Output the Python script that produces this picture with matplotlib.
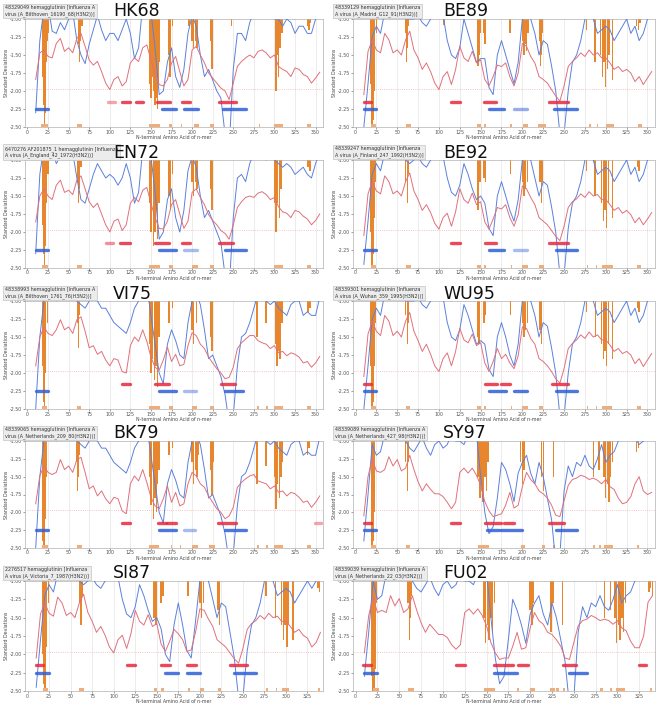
import matplotlib
matplotlib.use("Agg")
import matplotlib.pyplot as plt

W, H = 661, 707

PANELS = ["HK68", "BE89", "EN72", "BE92", "VI75", "WU95", "BK79", "SY97", "SI87", "FU02"]
CAPTIONS = [
    "48329049 hemagglutinin [Influenza A\nvirus (A_Bilthoven_16190_68(H3N2))]",
    "48339129 hemagglutinin [Influenza\nA virus (A_Madrid_G12_91(H3N2))]",
    "6470276 AF201875_1 hemagglutinin [Influenza\nA virus (A_England_42_1972(H3N2))]",
    "48339247 hemagglutinin [Influenza\nA virus (A_Finland_247_1992(H3N2))]",
    "48338993 hemagglutinin [Influenza A\nvirus (A_Bilthoven_1761_76(H3N2))]",
    "48339301 hemagglutinin [Influenza\nA virus (A_Wuhan_359_1995(H3N2))]",
    "48339065 hemagglutinin [Influenza A\nvirus (A_Netherlands_209_80(H3N2))]",
    "48339089 hemagglutinin [Influenza A\nvirus (A_Netherlands_427_98(H3N2))]",
    "2276517 hemagglutinin [Influenza\nA virus (A_Victoria_7_1987(H3N2))]",
    "48339039 hemagglutinin [Influenza A\nvirus (A_Netherlands_22_03(H3N2))]",
]

# n-mer start positions (every 5th residue)
POS = [10, 15, 20, 25, 30, 35, 40, 45, 50, 55, 60, 65, 70, 75, 80, 85, 90, 95, 100, 105,
       110, 115, 120, 125, 130, 135, 140, 145, 150, 155, 160, 165, 170, 175, 180, 185, 190, 195, 200, 205,
       210, 215, 220, 225, 230, 235, 240, 245, 250, 255, 260, 265, 270, 275, 280, 285, 290, 295, 300, 305,
       310, 315, 320, 325, 330, 335, 340, 345, 350, 355]

# ---- HK68
HK68_RED = [-1.84, -1.47, -1.43, -1.52, -1.54, -1.34, -1.27, -1.45, -1.40, -1.47,
            -1.27, -1.20, -1.38, -1.57, -1.64, -1.59, -1.73, -1.89, -1.98, -1.84,
            -1.80, -1.93, -1.87, -1.61, -1.54, -1.59, -1.40, -1.36, -1.57, -1.75,
            -1.91, -1.93, -1.84, -1.61, -1.52, -1.73, -1.93, -1.84, -1.43, -1.38,
            -1.50, -1.61, -1.75, -1.82, -1.89, -1.96, -2.00, -2.12, -1.89, -1.66,
            -1.59, -1.54, -1.50, -1.54, -1.45, -1.43, -1.47, -1.54, -1.50, -1.66,
            -1.70, -1.73, -1.80, -1.68, -1.70, -1.77, -1.80, -1.89, -1.82, -1.74]
HK68_BLUE = [-2.30, -1.30, -0.85, -0.80, -1.17, -1.20, -1.05, -1.15, -1.00, -0.90,
             -1.30, -1.50, -1.62, -1.35, -1.15, -0.95, -1.15, -1.30, -1.20, -1.20,
             -1.30, -1.15, -1.00, -1.20, -1.55, -1.40, -0.80, -0.80, -0.90, -1.40,
             -2.05, -2.00, -1.60, -1.40, -1.80, -1.95, -1.70, -1.20, -0.95, -1.10,
             -1.50, -1.80, -1.70, -1.85, -2.00, -2.10, -2.60, -2.80, -1.70, -1.20,
             -1.20, -1.30, -1.05, -0.90, -0.80, -0.90, -0.95, -0.85, -1.00, -1.00,
             -1.10, -1.00, -1.05, -1.20, -1.10, -1.10, -1.20, -1.20, -1.00, -0.90]
HK68_SPIKE_X = [19, 20, 21, 22, 23, 24, 25, 62, 63, 64, 66, 148, 149, 150, 152, 153, 155, 156, 157, 158, 159, 160,
                172, 173, 174, 176, 196, 200, 202, 204, 206, 222, 224, 225, 248, 301, 302, 303, 305, 307, 309, 341, 342, 343]
HK68_SPIKE_Y = [-1.8, -2.2, -2.5, -2.3, -1.6, -1.3, -1.2, -1.35, -1.6, -1.3, -1.1, -1.5, -1.9, -2.1, -1.8, -2.0, -2.2, -1.7, -2.1, -2.25, -1.9, -1.6,
                -1.5, -1.8, -1.3, -1.1, -1.1, -1.3, -1.4, -1.3, -1.4, -1.3, -1.7, -1.4, -1.1, -1.6, -2.0, -1.5, -1.8, -1.4, -1.2, -1.1, -1.15, -1.05]
HK68_MARKS = [(17, 8), (60, 6), (148, 13), (172, 4), (187, 1), (202, 6), (222, 5), (281, 2), (300, 10), (340, 5)]
HK68_RSEG = [(98, 106, 0.5), (115, 124, 1), (132, 140, 1), (157, 173, 1), (188, 197, 1), (233, 253, 1)]
HK68_BSEG = [(10, 25, 1), (163, 180, 1), (190, 207, 1), (238, 266, 1)]

# ---- BE89
BE89_RED = [-2.05, -1.45, -1.29, -1.43, -1.47, -1.20, -1.29, -1.47, -1.43, -1.50,
            -1.29, -1.17, -1.43, -1.54, -1.70, -1.61, -1.73, -1.89, -1.98, -1.80,
            -1.73, -1.91, -1.70, -1.38, -1.54, -1.59, -1.45, -1.61, -1.57, -1.84,
            -1.93, -1.80, -1.64, -1.66, -1.61, -1.80, -1.93, -1.75, -1.34, -1.38,
            -1.52, -1.61, -1.80, -1.84, -1.89, -1.98, -2.07, -2.14, -1.93, -1.66,
            -1.59, -1.54, -1.47, -1.52, -1.43, -1.50, -1.47, -1.54, -1.54, -1.61,
            -1.70, -1.66, -1.73, -1.70, -1.75, -1.87, -1.80, -1.91, -1.82, -1.73]
BE89_BLUE = [-2.50, -1.90, -1.25, -1.10, -1.20, -0.90, -0.85, -0.85, -0.85, -0.90,
             -1.00, -1.00, -1.00, -0.95, -1.05, -1.10, -1.00, -0.95, -0.90, -0.95,
             -1.30, -1.50, -1.55, -1.40, -1.00, -1.20, -1.40, -1.60, -1.55, -1.55,
             -1.95, -2.05, -1.50, -1.30, -1.50, -1.70, -1.90, -1.60, -1.00, -0.90,
             -1.00, -1.20, -1.50, -1.30, -1.35, -1.65, -2.00, -2.60, -2.60, -2.00,
             -1.60, -1.50, -1.30, -1.00, -0.90, -1.00, -1.20, -1.15, -1.10, -1.15,
             -1.30, -1.20, -1.10, -1.00, -1.20, -1.10, -1.30, -1.20, -1.00, -0.90]
BE89_SPIKE_X = [18, 19, 20, 21, 22, 23, 25, 60, 61, 62, 63, 106, 146, 147, 148, 150, 154, 155, 156, 185,
                200, 202, 203, 205, 207, 221, 222, 223, 224, 277, 287, 294, 296, 298, 300, 302, 304, 308, 337, 339, 341]
BE89_SPIKE_Y = [-1.9, -2.3, -2.5, -2.4, -2.0, -1.5, -1.2, -1.2, -1.6, -1.4, -1.1, -1.08, -1.3, -1.65, -1.5, -1.2, -1.2, -1.35, -1.15, -1.2,
                -1.3, -1.5, -1.35, -1.45, -1.2, -1.3, -1.65, -1.5, -1.2, -1.15, -1.6, -1.5, -1.8, -1.6, -1.95, -1.7, -1.5, -1.85, -1.1, -1.15, -1.05]
BE89_MARKS = [(18, 6), (60, 6), (146, 5), (154, 3), (185, 2), (201, 6), (219, 9), (280, 2), (289, 2), (300, 10), (339, 5)]
BE89_RSEG = [(10, 18, 1), (115, 125, 1), (154, 168, 1), (232, 255, 1)]
BE89_BSEG = [(10, 25, 1), (160, 178, 1), (190, 205, 0.6), (238, 265, 1)]

# ---- EN72
EN72_RED = [-1.86, -1.50, -1.40, -1.50, -1.55, -1.35, -1.28, -1.45, -1.42, -1.48,
            -1.28, -1.22, -1.40, -1.58, -1.66, -1.60, -1.75, -1.90, -2.00, -1.85,
            -1.82, -1.98, -1.90, -1.60, -1.52, -1.58, -1.42, -1.38, -1.60, -1.80,
            -1.95, -1.96, -1.85, -1.62, -1.55, -1.75, -1.95, -1.85, -1.45, -1.40,
            -1.52, -1.62, -1.76, -1.84, -1.90, -1.98, -2.02, -2.10, -1.90, -1.66,
            -1.58, -1.52, -1.50, -1.52, -1.46, -1.44, -1.48, -1.55, -1.52, -1.65,
            -1.72, -1.74, -1.80, -1.70, -1.72, -1.78, -1.82, -1.90, -1.84, -1.75]
EN72_BLUE = [-2.30, -1.20, -0.80, -0.80, -0.85, -1.05, -0.95, -0.90, -0.85, -0.90,
             -1.25, -1.55, -1.60, -1.40, -1.20, -1.05, -1.15, -1.25, -1.20, -1.25,
             -1.35, -1.25, -1.05, -1.25, -1.60, -1.45, -0.85, -0.80, -0.95, -1.45,
             -2.10, -2.00, -1.55, -1.40, -1.80, -2.00, -1.70, -1.15, -0.95, -1.10,
             -1.50, -1.80, -1.70, -1.85, -2.00, -2.15, -2.60, -2.80, -1.80, -1.25,
             -1.20, -1.30, -1.05, -0.90, -0.85, -0.90, -1.00, -0.90, -1.00, -1.05,
             -1.10, -1.05, -1.10, -1.20, -1.15, -1.10, -1.20, -1.25, -1.05, -0.90]
EN72_SPIKE_X = [19, 20, 21, 22, 23, 25, 61, 62, 63, 65, 148, 150, 151, 153, 155, 156, 158, 160, 172, 174, 176,
                200, 202, 204, 206, 222, 224, 300, 302, 304, 306, 308, 341, 343]
EN72_SPIKE_Y = [-1.9, -2.3, -2.5, -2.2, -1.6, -1.2, -1.3, -1.6, -1.4, -1.1, -1.6, -2.0, -1.8, -2.2, -2.0, -1.7, -2.1, -1.6, -1.5, -1.7, -1.2,
                -1.3, -1.5, -1.3, -1.4, -1.4, -1.7, -1.6, -2.0, -1.6, -1.8, -1.4, -1.1, -1.15]
EN72_MARKS = [(18, 7), (60, 6), (148, 13), (172, 5), (200, 7), (222, 5), (300, 10), (340, 5)]
EN72_RSEG = [(95, 104, 0.6), (113, 124, 1), (155, 172, 1), (188, 198, 1), (233, 250, 1)]
EN72_BSEG = [(10, 25, 1), (160, 180, 1), (190, 206, 0.5), (240, 265, 1)]

# ---- BE92
BE92_RED = [-2.05, -1.47, -1.30, -1.43, -1.47, -1.22, -1.30, -1.47, -1.43, -1.50,
            -1.30, -1.18, -1.43, -1.55, -1.70, -1.62, -1.73, -1.88, -1.96, -1.80,
            -1.74, -1.92, -1.72, -1.40, -1.55, -1.60, -1.46, -1.62, -1.58, -1.86,
            -1.96, -1.82, -1.66, -1.68, -1.62, -1.80, -1.92, -1.76, -1.36, -1.40,
            -1.52, -1.62, -1.80, -1.85, -1.90, -1.98, -2.06, -2.12, -1.92, -1.66,
            -1.58, -1.54, -1.47, -1.52, -1.44, -1.50, -1.48, -1.55, -1.55, -1.62,
            -1.70, -1.66, -1.74, -1.70, -1.76, -1.87, -1.80, -1.90, -1.82, -1.73]
BE92_BLUE = [-2.45, -1.85, -1.20, -1.05, -1.15, -0.90, -0.85, -0.85, -0.90, -0.95,
             -1.00, -1.05, -1.00, -0.95, -1.05, -1.10, -1.00, -0.95, -0.90, -0.95,
             -1.25, -1.45, -1.50, -1.35, -1.05, -1.20, -1.40, -1.55, -1.50, -1.60,
             -1.95, -2.05, -1.50, -1.30, -1.50, -1.70, -1.85, -1.55, -1.00, -0.90,
             -1.00, -1.25, -1.50, -1.30, -1.35, -1.65, -2.00, -2.60, -2.60, -1.95,
             -1.60, -1.50, -1.30, -1.00, -0.90, -1.00, -1.20, -1.15, -1.10, -1.15,
             -1.30, -1.20, -1.10, -1.00, -1.20, -1.10, -1.30, -1.20, -1.00, -0.90]
BE92_SPIKE_X = [18, 19, 20, 21, 22, 24, 60, 62, 63, 146, 147, 149, 154, 156, 186, 200, 202, 204, 206,
                221, 223, 224, 277, 287, 295, 297, 299, 301, 303, 308, 338, 340]
BE92_SPIKE_Y = [-2.0, -2.4, -2.5, -2.3, -1.8, -1.3, -1.3, -1.6, -1.2, -1.4, -1.7, -1.3, -1.25, -1.3, -1.2, -1.3, -1.5, -1.4, -1.3,
                -1.3, -1.6, -1.3, -1.15, -1.5, -1.6, -1.85, -1.7, -1.95, -1.6, -1.8, -1.1, -1.15]
BE92_MARKS = [(18, 6), (60, 6), (146, 5), (154, 3), (186, 2), (200, 7), (220, 6), (277, 2), (288, 2), (295, 14), (338, 4)]
BE92_RSEG = [(115, 125, 1), (155, 168, 1), (232, 255, 1)]
BE92_BSEG = [(10, 25, 1), (160, 178, 1), (190, 205, 0.5), (240, 265, 1)]

# ---- VI75
VI75_RED = [-1.90, -1.50, -1.36, -1.45, -1.48, -1.40, -1.26, -1.40, -1.36, -1.45,
            -1.26, -1.22, -1.42, -1.65, -1.62, -1.74, -1.70, -1.82, -1.90, -1.80,
            -1.82, -1.98, -2.00, -1.62, -1.50, -1.56, -1.40, -1.56, -1.78, -1.92,
            -1.96, -1.82, -1.64, -1.84, -1.74, -1.90, -1.88, -1.62, -1.44, -1.48,
            -1.60, -1.66, -1.78, -1.86, -1.94, -2.00, -2.08, -2.06, -1.92, -1.66,
            -1.58, -1.53, -1.48, -1.48, -1.55, -1.58, -1.60, -1.66, -1.62, -1.72,
            -1.70, -1.76, -1.72, -1.74, -1.78, -1.86, -1.84, -1.92, -1.86, -1.77]
VI75_BLUE = [-2.50, -1.50, -1.00, -0.80, -0.85, -1.00, -0.85, -0.80, -0.80, -0.85,
             -1.00, -1.05, -1.10, -1.00, -0.90, -1.00, -1.10, -1.10, -1.20, -1.30,
             -1.35, -1.40, -1.45, -1.30, -1.10, -1.00, -0.90, -0.80, -1.20, -1.60,
             -2.00, -2.15, -1.60, -1.40, -1.55, -1.75, -1.80, -1.30, -1.00, -0.90,
             -1.05, -1.40, -1.80, -1.75, -1.90, -2.05, -2.30, -2.70, -2.60, -1.90,
             -1.50, -1.45, -1.30, -1.10, -0.90, -0.85, -1.00, -1.05, -1.00, -1.10,
             -1.15, -1.20, -1.05, -1.00, -1.00, -1.20, -1.15, -1.20, -1.20, -0.95]
VI75_SPIKE_X = [19, 20, 21, 22, 24, 61, 62, 63, 148, 150, 152, 154, 156, 158, 160, 172, 176, 200, 202, 205,
                222, 224, 279, 290, 301, 303, 305, 307, 309, 341, 343]
VI75_SPIKE_Y = [-1.9, -2.4, -2.5, -2.0, -1.3, -1.3, -1.65, -1.2, -1.6, -2.0, -1.8, -2.1, -1.9, -2.2, -1.5, -1.3, -1.1, -1.4, -1.6, -1.3,
                -1.5, -1.7, -1.5, -1.3, -1.6, -1.9, -1.7, -1.8, -1.3, -1.15, -1.1]
VI75_MARKS = [(18, 6), (60, 5), (148, 13), (172, 5), (200, 6), (222, 4), (279, 2), (290, 2), (300, 10), (340, 4)]
VI75_RSEG = [(115, 124, 1), (155, 172, 1), (235, 252, 1)]
VI75_BSEG = [(10, 25, 1), (160, 180, 1), (190, 205, 0.5), (240, 262, 1)]

# ---- WU95
WU95_RED = [-2.05, -1.46, -1.28, -1.42, -1.48, -1.20, -1.28, -1.48, -1.42, -1.50,
            -1.28, -1.16, -1.42, -1.55, -1.70, -1.60, -1.74, -1.90, -1.98, -1.80,
            -1.72, -1.90, -1.70, -1.38, -1.54, -1.58, -1.46, -1.62, -1.58, -1.86,
            -1.98, -1.84, -1.66, -1.80, -1.74, -1.86, -1.94, -1.76, -1.36, -1.38,
            -1.52, -1.60, -1.80, -1.84, -1.90, -1.98, -2.08, -2.14, -1.94, -1.66,
            -1.59, -1.54, -1.47, -1.52, -1.43, -1.50, -1.47, -1.54, -1.54, -1.61,
            -1.70, -1.66, -1.73, -1.70, -1.75, -1.87, -1.80, -1.91, -1.82, -1.73]
WU95_BLUE = [-2.50, -1.90, -1.25, -1.10, -1.20, -0.90, -0.85, -0.85, -0.90, -0.95,
             -1.00, -1.00, -1.00, -0.95, -1.05, -1.10, -1.00, -0.95, -0.90, -0.95,
             -1.30, -1.50, -1.55, -1.40, -1.05, -1.20, -1.40, -1.60, -1.55, -1.60,
             -1.95, -2.05, -1.50, -1.30, -1.50, -1.75, -1.90, -1.60, -1.00, -0.90,
             -1.00, -1.20, -1.50, -1.30, -1.35, -1.65, -2.00, -2.60, -2.60, -2.00,
             -1.60, -1.50, -1.30, -1.00, -0.90, -1.00, -1.20, -1.15, -1.10, -1.15,
             -1.30, -1.20, -1.10, -1.00, -1.20, -1.10, -1.30, -1.20, -1.00, -0.90]
WU95_SPIKE_X = [18, 19, 20, 21, 22, 24, 60, 62, 63, 146, 148, 154, 156, 186, 200, 202, 204, 206,
                221, 223, 277, 288, 295, 297, 299, 301, 303, 308, 338, 340]
WU95_SPIKE_Y = [-1.9, -2.3, -2.5, -2.4, -1.9, -1.3, -1.2, -1.6, -1.3, -1.5, -1.6, -1.3, -1.2, -1.2, -1.3, -1.5, -1.4, -1.3,
                -1.4, -1.6, -1.15, -1.5, -1.6, -1.8, -1.7, -1.9, -1.6, -1.8, -1.1, -1.15]
WU95_MARKS = [(18, 6), (60, 5), (146, 4), (154, 3), (186, 2), (200, 7), (220, 5), (277, 2), (288, 2), (295, 13), (338, 4)]
WU95_RSEG = [(10, 18, 1), (155, 170, 1), (175, 185, 1), (235, 255, 1)]
WU95_BSEG = [(10, 25, 1), (160, 180, 1), (190, 205, 1), (240, 265, 1)]

# ---- BK79
BK79_RED = [-1.88, -1.49, -1.35, -1.44, -1.47, -1.44, -1.26, -1.40, -1.35, -1.44,
            -1.26, -1.23, -1.44, -1.67, -1.63, -1.77, -1.70, -1.81, -1.88, -1.79,
            -1.81, -1.98, -2.02, -1.60, -1.49, -1.56, -1.40, -1.58, -1.79, -1.91,
            -1.95, -1.81, -1.63, -1.86, -1.72, -1.91, -1.88, -1.60, -1.44, -1.49,
            -1.60, -1.65, -1.77, -1.86, -1.95, -2.00, -2.09, -2.05, -1.93, -1.65,
            -1.58, -1.53, -1.49, -1.47, -1.56, -1.58, -1.60, -1.67, -1.63, -1.72,
            -1.70, -1.77, -1.72, -1.74, -1.79, -1.86, -1.84, -1.93, -1.86, -1.77]
BK79_BLUE = [-2.50, -1.50, -1.00, -0.80, -0.80, -1.00, -0.80, -0.80, -0.80, -0.80,
             -1.00, -1.05, -1.10, -1.00, -0.90, -1.00, -1.10, -1.10, -1.20, -1.30,
             -1.35, -1.40, -1.45, -1.30, -1.10, -1.00, -0.90, -0.80, -1.20, -1.60,
             -2.00, -2.15, -1.60, -1.40, -1.55, -1.75, -1.80, -1.30, -1.00, -0.90,
             -1.05, -1.40, -1.80, -1.75, -1.90, -2.05, -2.30, -2.70, -2.60, -1.90,
             -1.50, -1.45, -1.30, -1.10, -0.90, -0.85, -1.00, -1.05, -1.00, -1.10,
             -1.15, -1.20, -1.05, -1.00, -1.00, -1.20, -1.15, -1.20, -1.20, -0.95]
BK79_SPIKE_X = [18, 19, 20, 21, 22, 23, 60, 61, 62, 63, 148, 150, 151, 153, 155, 157, 158, 160, 172, 176,
                200, 202, 204, 206, 208, 222, 224, 226, 279, 290, 300, 302, 304, 306, 308, 310, 340, 342]
BK79_SPIKE_Y = [-1.9, -2.4, -2.5, -2.5, -2.1, -1.5, -1.3, -1.7, -1.5, -1.2, -1.5, -1.9, -1.7, -2.1, -1.8, -2.0, -1.6, -1.4, -1.2, -1.1,
                -1.3, -1.6, -1.4, -1.5, -1.2, -1.4, -1.75, -1.3, -1.6, -1.35, -1.5, -1.95, -1.6, -1.8, -1.5, -1.3, -1.2, -1.1]
BK79_MARKS = [(18, 7), (60, 6), (148, 12), (174, 2), (185, 2), (200, 7), (221, 7), (279, 2), (290, 2), (300, 10), (340, 5)]
BK79_RSEG = [(115, 125, 1), (158, 168, 1), (170, 180, 1), (232, 253, 1), (349, 356, 0.5)]
BK79_BSEG = [(10, 25, 1), (160, 180, 1), (190, 203, 0.5), (240, 265, 1)]

# ---- SY97
SY97_RED = [-2.05, -1.50, -1.25, -1.42, -1.44, -1.40, -1.22, -1.35, -1.26, -1.42,
            -1.38, -1.20, -1.40, -1.57, -1.70, -1.60, -1.68, -1.74, -1.74, -1.78,
            -1.86, -1.95, -1.86, -1.44, -1.38, -1.45, -1.38, -1.48, -1.62, -1.85,
            -1.98, -2.06, -2.04, -2.02, -1.90, -1.72, -1.94, -1.90, -1.64, -1.44,
            -1.54, -1.60, -1.70, -1.74, -1.80, -1.90, -2.04, -2.06, -1.84, -1.62,
            -1.54, -1.52, -1.48, -1.50, -1.54, -1.52, -1.55, -1.60, -1.54, -1.64,
            -1.68, -1.80, -1.88, -1.86, -1.78, -1.60, -1.50, -1.70, -1.75, -1.72]
SY97_BLUE = [-2.40, -1.75, -1.05, -1.20, -1.15, -0.90, -0.80, -0.80, -0.80, -0.85,
             -1.00, -1.10, -1.15, -1.05, -0.95, -1.10, -1.20, -1.05, -1.00, -1.10,
             -1.05, -0.90, -1.00, -1.00, -1.05, -0.90, -0.80, -0.90, -1.50, -2.00,
             -2.30, -2.20, -1.80, -1.30, -1.40, -1.60, -1.85, -1.45, -1.30, -1.20,
             -1.45, -1.60, -1.30, -1.50, -1.80, -2.10, -2.70, -2.60, -1.70, -1.35,
             -1.50, -1.30, -1.35, -1.20, -1.35, -1.40, -1.25, -1.05, -1.30, -1.20,
             -1.15, -1.00, -0.90, -0.90, -0.90, -0.95, -1.05, -1.00, -0.95, -0.90]
SY97_SPIKE_X = [19, 20, 21, 22, 23, 60, 62, 63, 147, 149, 151, 153, 155, 157, 159, 198, 200, 202,
                223, 225, 237, 285, 292, 298, 300, 302, 304, 306, 308, 337, 339]
SY97_SPIKE_Y = [-2.0, -2.5, -2.4, -2.0, -1.4, -1.3, -1.7, -1.3, -1.5, -1.8, -1.6, -1.85, -1.5, -1.7, -1.3, -1.3, -1.6, -1.4,
                -1.5, -1.7, -1.5, -1.5, -1.4, -1.5, -1.8, -1.6, -1.85, -1.5, -1.3, -1.15, -1.1]
SY97_MARKS = [(19, 6), (60, 5), (147, 13), (198, 5), (223, 4), (237, 2), (285, 2), (292, 2), (298, 11), (337, 3)]
SY97_RSEG = [(10, 18, 1), (115, 125, 1), (155, 175, 1), (178, 190, 1), (232, 250, 1)]
SY97_BSEG = [(10, 25, 1), (158, 172, 1), (175, 200, 1), (240, 265, 1)]

# ---- SI87 (shorter sequence)
SI87_RED = [-2.05, -1.45, -1.30, -1.44, -1.48, -1.22, -1.30, -1.47, -1.43, -1.50,
            -1.30, -1.18, -1.43, -1.55, -1.70, -1.62, -1.74, -1.90, -1.98, -1.80,
            -1.74, -1.92, -1.72, -1.40, -1.55, -1.60, -1.46, -1.62, -1.58, -1.86,
            -1.96, -1.82, -1.66, -1.72, -1.80, -1.96, -1.94, -1.70, -1.38, -1.40,
            -1.52, -1.62, -1.80, -1.85, -1.90, -1.98, -2.06, -2.12, -1.92, -1.66,
            -1.58, -1.54, -1.47, -1.52, -1.44, -1.50, -1.48, -1.55, -1.55, -1.62,
            -1.70, -1.66, -1.74, -1.78, -1.90, -1.84, -1.70]
SI87_BLUE = [-2.45, -1.80, -1.20, -1.05, -1.15, -0.90, -0.85, -0.85, -0.90, -0.95,
             -1.00, -1.05, -1.00, -0.95, -1.05, -1.10, -1.00, -0.95, -0.90, -0.95,
             -1.25, -1.45, -1.50, -1.35, -1.05, -1.20, -1.40, -1.55, -1.50, -1.65,
             -2.00, -2.10, -1.60, -1.30, -1.60, -1.95, -2.05, -1.55, -1.00, -0.90,
             -1.00, -1.25, -1.50, -1.30, -1.35, -1.70, -2.05, -2.60, -2.60, -1.95,
             -1.60, -1.50, -1.30, -1.00, -0.90, -1.00, -1.20, -1.15, -1.10, -1.15,
             -1.30, -1.20, -1.10, -1.00, -1.10, -1.00, -0.90]
SI87_SPIKE_X = [18, 19, 20, 21, 22, 24, 60, 62, 63, 147, 149, 155, 157, 186, 200, 202, 204,
                221, 223, 277, 288, 295, 297, 299, 301, 303, 308, 337, 339]
SI87_SPIKE_Y = [-2.0, -2.4, -2.5, -2.3, -1.9, -1.3, -1.3, -1.6, -1.2, -1.5, -1.6, -1.3, -1.2, -1.2, -1.3, -1.5, -1.3,
                -1.4, -1.6, -1.2, -1.5, -1.6, -1.8, -1.6, -1.9, -1.6, -1.8, -1.1, -1.15]
SI87_MARKS = [(18, 6), (60, 5), (147, 3), (155, 3), (186, 2), (200, 5), (221, 4), (277, 2), (288, 2), (295, 9), (337, 3)]
SI87_RSEG = [(10, 18, 1), (115, 125, 1), (155, 165, 1), (185, 195, 1), (235, 255, 1)]
SI87_BSEG = [(10, 25, 1), (160, 175, 1), (185, 200, 1), (240, 265, 1)]

# ---- FU02 (shorter sequence)
FU02_RED = [-1.98, -1.47, -1.22, -1.43, -1.40, -1.43, -1.20, -1.34, -1.24, -1.43,
            -1.38, -1.20, -1.40, -1.57, -1.70, -1.59, -1.66, -1.73, -1.73, -1.77,
            -1.87, -1.93, -1.87, -1.43, -1.38, -1.45, -1.38, -1.47, -1.61, -1.84,
            -1.98, -2.07, -2.05, -2.05, -1.89, -1.70, -1.93, -1.91, -1.64, -1.43,
            -1.54, -1.59, -1.70, -1.73, -1.80, -1.89, -2.05, -2.07, -1.84, -1.61,
            -1.54, -1.52, -1.47, -1.50, -1.54, -1.52, -1.54, -1.59, -1.54, -1.64,
            -1.68, -1.82, -1.91, -1.91, -1.75, -1.29, -1.20]
FU02_BLUE = [-2.30, -1.70, -1.00, -1.25, -1.20, -0.90, -0.80, -0.80, -0.80, -0.80,
             -0.80, -1.00, -1.10, -1.15, -1.05, -0.95, -1.10, -1.20, -1.05, -1.00,
             -1.10, -1.05, -0.90, -1.00, -1.00, -1.05, -0.90, -0.80, -0.90, -1.50,
             -2.05, -2.40, -2.30, -1.80, -1.25, -1.40, -1.60, -1.85, -1.45, -1.30,
             -1.20, -1.45, -1.60, -1.30, -1.50, -1.80, -2.10, -2.70, -2.60, -1.70,
             -1.35, -1.50, -1.30, -1.35, -1.20, -1.35, -1.40, -1.25, -1.05, -1.30,
             -1.20, -1.15, -1.00, -0.90, -0.90, -0.90, -0.90]
FU02_SPIKE_X = [18, 19, 20, 21, 22, 23, 24, 60, 62, 63, 64, 147, 149, 151, 153, 155, 157, 159, 200, 202, 204,
                223, 224, 226, 237, 285, 292, 297, 299, 301, 303, 305, 307, 309, 336, 338, 340]
FU02_SPIKE_Y = [-1.8, -2.3, -2.5, -2.5, -2.2, -1.7, -1.3, -1.3, -1.8, -1.5, -1.2, -1.5, -1.85, -1.6, -1.8, -1.5, -1.7, -1.3, -1.4, -1.6, -1.3,
                -1.5, -1.7, -1.3, -1.6, -1.5, -1.4, -1.5, -1.85, -1.6, -1.8, -1.5, -1.7, -1.3, -1.15, -1.1, -1.2]
FU02_MARKS = [(20, 7), (60, 7), (147, 13), (185, 2), (200, 6), (223, 6), (230, 3), (238, 2), (280, 3), (292, 2), (298, 11), (337, 3)]
FU02_RSEG = [(8, 18, 1), (115, 125, 1), (158, 180, 1), (186, 197, 1), (238, 252, 1), (325, 333, 1)]
FU02_BSEG = [(10, 25, 1), (158, 185, 1), (245, 265, 1)]

DATA = {
    "HK68": (HK68_RED, HK68_BLUE, HK68_SPIKE_X, HK68_SPIKE_Y, HK68_MARKS, HK68_RSEG, HK68_BSEG),
    "BE89": (BE89_RED, BE89_BLUE, BE89_SPIKE_X, BE89_SPIKE_Y, BE89_MARKS, BE89_RSEG, BE89_BSEG),
    "EN72": (EN72_RED, EN72_BLUE, EN72_SPIKE_X, EN72_SPIKE_Y, EN72_MARKS, EN72_RSEG, EN72_BSEG),
    "BE92": (BE92_RED, BE92_BLUE, BE92_SPIKE_X, BE92_SPIKE_Y, BE92_MARKS, BE92_RSEG, BE92_BSEG),
    "VI75": (VI75_RED, VI75_BLUE, VI75_SPIKE_X, VI75_SPIKE_Y, VI75_MARKS, VI75_RSEG, VI75_BSEG),
    "WU95": (WU95_RED, WU95_BLUE, WU95_SPIKE_X, WU95_SPIKE_Y, WU95_MARKS, WU95_RSEG, WU95_BSEG),
    "BK79": (BK79_RED, BK79_BLUE, BK79_SPIKE_X, BK79_SPIKE_Y, BK79_MARKS, BK79_RSEG, BK79_BSEG),
    "SY97": (SY97_RED, SY97_BLUE, SY97_SPIKE_X, SY97_SPIKE_Y, SY97_MARKS, SY97_RSEG, SY97_BSEG),
    "SI87": (SI87_RED, SI87_BLUE, SI87_SPIKE_X, SI87_SPIKE_Y, SI87_MARKS, SI87_RSEG, SI87_BSEG),
    "FU02": (FU02_RED, FU02_BLUE, FU02_SPIKE_X, FU02_SPIKE_Y, FU02_MARKS, FU02_RSEG, FU02_BSEG),
}

YTICKS = [-2.50, -2.25, -2.00, -1.75, -1.50, -1.25, -1.00]
THRESH = -1.97

RED = "#e0707c"
BLUE = "#5b80dc"
ORANGE = "#e8862e"
MARK = "#f2ac78"
SEG_RED = "#e8283c"
SEG_BLUE = "#2f5fd8"

# layout in pixels
COL_L = [25, 353]
COL_R = [323, 655]
ROW_T = [19, 160, 301, 441, 581]
ROW_B = [127, 268, 409, 548, 691]

fig = plt.figure(figsize=(W / 100, H / 100), dpi=100)
fig.patch.set_facecolor("white")

for i, name in enumerate(PANELS):
    r, c = divmod(i, 2)
    l, rr = COL_L[c], COL_R[c]
    t, b = ROW_T[r], ROW_B[r]
    ax = fig.add_axes([l / W, 1 - b / H, (rr - l) / W, (b - t) / H])
    red, blue, sx, sy, marks, rseg, bseg = DATA[name]
    short = r == 4

    xmax = 343 if short else 359
    ax.set_xlim(-3, xmax)
    ax.set_ylim(-2.5, -1.0)
    xt = list(range(0, 330 if short else 355, 25))
    ax.set_xticks(xt)
    ax.set_yticks(YTICKS)
    ax.set_yticklabels(["%.2f" % v for v in YTICKS])
    for xv in xt[1:]:
        ax.axvline(xv, color="#e4e4e4", lw=0.5, zorder=0)
    ax.axhline(THRESH, color="#f3b0b0", lw=0.6, ls=":", zorder=0)

    # spikes hanging from the top of the panel
    ax.bar(sx, [y + 1.0 for y in sy], bottom=-1.0, width=1.7, color=ORANGE,
           edgecolor="none", zorder=2)
    ax.broken_barh(marks, (-2.5, 0.045), facecolor=MARK, edgecolor="none", zorder=2)

    ax.plot(POS[:len(blue)], blue, color=BLUE, lw=0.7, zorder=3)
    ax.plot(POS[:len(red)], red, color=RED, lw=0.7, zorder=3)

    for s, e, a in rseg:
        ax.plot([s, e], [-2.15, -2.15], color=SEG_RED, lw=2.4, alpha=0.85 * a,
                solid_capstyle="round", zorder=4)
    for s, e, a in bseg:
        ax.plot([s, e], [-2.25, -2.25], color=SEG_BLUE, lw=2.4, alpha=0.85 * a,
                solid_capstyle="round", zorder=4)

    for sp in ax.spines.values():
        sp.set_color("#b0b0b0")
        sp.set_linewidth(0.5)
    ax.tick_params(labelsize=3.4, length=1.2, width=0.4, pad=0.6, colors="#555555")
    ax.set_xlabel("N-terminal Amino Acid of n-mer", fontsize=3.4, labelpad=0.3, color="#444444")
    ax.set_ylabel("Standard Deviations", fontsize=3.4, labelpad=0.6, color="#444444")

    # caption box and strain label
    x0 = 5 if c == 0 else 335
    fig.text(x0 / W, 1 - (t - 14) / H, CAPTIONS[i], fontsize=3.4, va="top", ha="left",
             linespacing=1.25, color="#333333",
             bbox=dict(boxstyle="square,pad=0.35", fc="#ececec", ec="#c4c4c4", lw=0.5))
    fig.text((x0 + 108) / W, 1 - (t - 16.5) / H, name, fontsize=12.5, va="top", ha="left",
             color="#111111")

fig.savefig("out.png", dpi=100, facecolor="white")
